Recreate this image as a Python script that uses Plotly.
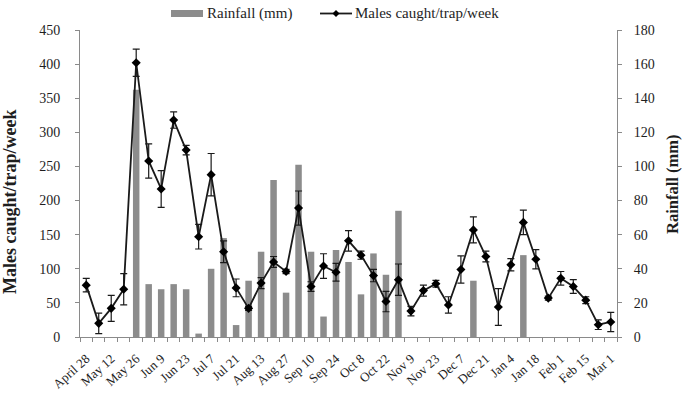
import plotly.graph_objects as go

tick_labels = ["April 28", "May 12", "May 26", "Jun 9", "Jun 23", "Jul 7", "Jul 21",
               "Aug 13", "Aug 27", "Sep 10", "Sep 24", "Oct 8", "Oct 22", "Nov 9",
               "Nov 23", "Dec 7", "Dec 21", "Jan 4", "Jan 18", "Feb 1", "Feb 15", "Mar 1"]

males = [76, 20, 42, 70, 402, 258, 217, 318, 274, 147, 238, 125, 72, 42, 79, 110, 96,
         189, 74, 104, 95, 141, 120, 90, 52, 84, 38, 68, 78, 47, 99, 157, 118, 44, 106,
         168, 114, 57, 86, 74, 54, 18, 22]
males_err = [10, 15, 19, 23, 20, 25, 27, 12, 7, 18, 31, 16, 13, 3, 8, 8, 3, 25, 7, 18,
             13, 15, 6, 9, 15, 23, 7, 8, 5, 12, 20, 19, 8, 27, 9, 18, 14, 3, 10, 10, 5, 7, 14]
rain = [0, 0, 0, 0, 145, 31, 28, 31, 28, 2, 40, 58, 7, 33, 50, 92, 26, 101, 50, 12, 51,
        44, 25, 49, 36.5, 74, 0, 0, 0, 0, 0, 33, 0, 0, 0, 48, 0, 0, 0, 0, 0, 0, 0]

weeks = list(range(len(males)))
tick_pos = weeks[::2]

SERIF = "Liberation Serif, Times New Roman, serif"
AX = "#8a8a8a"
TXT = "#1e1e1e"
BAR = "#8c8c8c"

W, H = 686, 397
ML, MR, MT, MB = 80, 69, 30, 60
PW, PH = W - ML - MR, H - MT - MB


def px(x):
    return (x - ML) / PW


def py(y):
    return (H - MB - y) / PH


fig = go.Figure()
fig.add_trace(go.Bar(
    x=weeks, y=rain, name="Rainfall (mm)", yaxis="y",
    marker=dict(color=BAR, line=dict(width=0)), width=0.52, showlegend=False,
))
fig.add_trace(go.Scatter(
    x=weeks, y=males, name="Males caught/trap/week", yaxis="y2",
    mode="lines+markers", showlegend=False,
    line=dict(color="#1a1a1a", width=1.8),
    marker=dict(symbol="diamond", size=7, color="#000000"),
    error_y=dict(type="data", array=males_err, visible=True, color="#1a1a1a",
                 thickness=1.2, width=3.5),
))

# manual legend
ly = 13.5
shapes = [
    dict(type="rect", xref="paper", yref="paper", x0=px(171), x1=px(203),
         y0=py(17), y1=py(10), fillcolor=BAR, line=dict(width=0)),
    dict(type="line", xref="paper", yref="paper", x0=px(320), x1=px(352),
         y0=py(ly), y1=py(ly), line=dict(color="#1a1a1a", width=1.8)),
    dict(type="path", xref="paper", yref="paper",
         path=f"M {px(336)},{py(ly-3.5)} L {px(339.5)},{py(ly)} L {px(336)},{py(ly+3.5)} L {px(332.5)},{py(ly)} Z",
         fillcolor="#000000", line=dict(width=0)),
]
annotations = [
    dict(text="Rainfall (mm)", xref="paper", yref="paper", x=px(205), y=py(ly),
         xanchor="left", yanchor="middle", showarrow=False,
         font=dict(family=SERIF, size=15, color=TXT)),
    dict(text="Males caught/trap/week", xref="paper", yref="paper", x=px(353), y=py(ly),
         xanchor="left", yanchor="middle", showarrow=False,
         font=dict(family=SERIF, size=15, color=TXT)),
    dict(text="<b>Males caught/trap/week</b>", xref="paper", yref="paper",
         x=px(10), y=py(202), textangle=-90, xanchor="center", yanchor="middle",
         showarrow=False, font=dict(family=SERIF, size=18, color=TXT)),
    dict(text="<b>Rainfall (mm)</b>", xref="paper", yref="paper",
         x=px(672), y=py(185), textangle=-90, xanchor="center", yanchor="middle",
         showarrow=False, font=dict(family=SERIF, size=16.5, color=TXT)),
]

fig.update_layout(
    width=W, height=H,
    margin=dict(l=ML, r=MR, t=MT, b=MB, autoexpand=False),
    paper_bgcolor="white", plot_bgcolor="white",
    font=dict(family=SERIF, size=14, color=TXT),
    showlegend=False,
    shapes=shapes, annotations=annotations,
    xaxis=dict(
        range=[-0.5, len(weeks) - 0.5], automargin=False,
        tickmode="array", tickvals=tick_pos, ticktext=tick_labels,
        tickangle=-42, ticks="", showgrid=False, zeroline=False,
        showline=True, linecolor=AX, linewidth=1, ticklabelstandoff=8,
        tickfont=dict(family=SERIF, size=13, color=TXT),
        minor=dict(tickmode="linear", tick0=-0.5, dtick=1, ticks="outside",
                   ticklen=4, tickcolor=AX, showgrid=False),
    ),
    yaxis=dict(
        side="right", range=[0, 180], dtick=20, showgrid=False, zeroline=False,
        showline=True, linecolor=AX, linewidth=1, ticks="outside", ticklen=4,
        tickcolor=AX, tickfont=dict(family=SERIF, size=14, color=TXT),
        ticklabelstandoff=9, automargin=False,
    ),
    yaxis2=dict(
        overlaying="y", side="left", range=[0, 450], dtick=50, showgrid=False,
        zeroline=False, showline=True, linecolor=AX, linewidth=1, ticks="outside",
        ticklen=4, tickcolor=AX, tickfont=dict(family=SERIF, size=14, color=TXT),
        ticklabelstandoff=12, automargin=False,
    ),
)

fig.write_html("out.html")
